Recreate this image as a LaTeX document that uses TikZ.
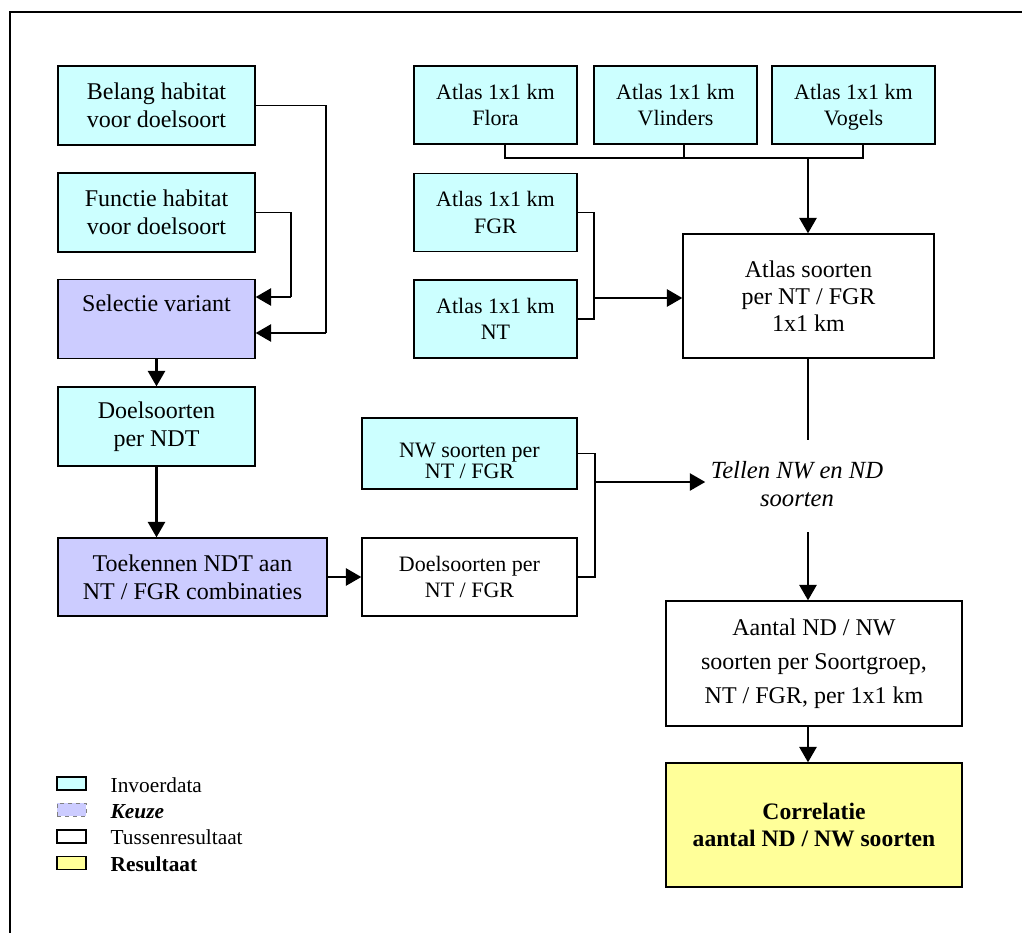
\documentclass[tikz,border=0pt]{standalone}
\usepackage{fontspec}
\setmainfont{Liberation Serif}
\usetikzlibrary{arrows}
\definecolor{invoerkl}{HTML}{CCFFFF}
\definecolor{keuzekl}{HTML}{CCCCFF}
\definecolor{resultkl}{HTML}{FFFF99}

\begin{document}
\begin{tikzpicture}[x=0.75pt,y=-0.75pt,
  box/.style={draw,line width=1.1pt,align=center,inner sep=0pt},
  invoer/.style={box,fill=invoerkl},
  keuze/.style={box,fill=keuzekl},
  tussen/.style={box,fill=white},
  resultaat/.style={box,fill=resultkl},
  groot/.style={font=\fontsize{18}{21}\selectfont},
  klein/.style={font=\fontsize{16.5}{20}\selectfont},
  links/.style={groot,minimum width=147.75pt,minimum height=59.25pt},
  atlas/.style={klein,minimum width=122.25pt,minimum height=58.5pt},
  legenda/.style={minimum width=21.75pt,minimum height=9.75pt,line width=0.9pt},
  legtekst/.style={anchor=base west,font=\fontsize{16}{19}\selectfont},
  lijn/.style={line width=0.9pt},
  pijl/.style={line width=2.2pt,-triangle 60}]
  \useasboundingbox (0,0) rectangle (1022,933);
  \draw[line width=1pt] (1022,12) -- (10,12) -- (10,933);

  \node[invoer,links] (belang) at (156.5,105.5) {Belang habitat\\voor doelsoort};
  \node[invoer,links] (functie) at (156.5,212.5) {Functie habitat\\voor doelsoort};
  \node[keuze,links] (selectie) at (156.5,319) {Selectie variant\\[-3pt]\strut};
  \node[invoer,links] (ndt) at (156.5,426.5) {Doelsoorten\\per NDT};
  \node[keuze,groot,minimum width=201.75pt,minimum height=58.5pt] (toek) at (192.5,577)
    {Toekennen NDT aan\\NT / FGR combinaties};

  \node[invoer,atlas] (flora) at (495.5,105) {Atlas 1x1 km\\Flora};
  \node[invoer,atlas] (vlind) at (675.5,105) {Atlas 1x1 km\\Vlinders};
  \node[invoer,atlas] (vogel) at (853.5,105) {Atlas 1x1 km\\\smash{Vogels}};
  \node[invoer,atlas] (fgr) at (495.5,212.5) {Atlas 1x1 km\\FGR};
  \node[invoer,atlas] (nt) at (495.5,319) {Atlas 1x1 km\\NT};
  \node[tussen,font=\fontsize{18}{20.5}\selectfont,minimum width=188.25pt,minimum height=93pt]
    (soort) at (808.5,296) {Atlas soorten\\per NT / FGR\\1x1 km};

  \node[invoer,klein,minimum width=161.25pt,minimum height=53.25pt] (nw) at (469.5,453.5)
    {\rule{0pt}{22pt}NW soorten per\\[-4pt]NT / FGR};
  \node[tussen,klein,minimum width=161.25pt,minimum height=58.5pt] (doelnt) at (469.5,577)
    {Doelsoorten per\\NT / FGR};
  \node[groot,align=center,inner sep=4pt,font=\fontsize{18.5}{21.5}\selectfont\itshape]
    (tellen) at (797,484) {Tellen NW en ND\\soorten};

  \node[tussen,font=\fontsize{18}{25.5}\selectfont,minimum width=222pt,minimum height=93.75pt]
    (aantal) at (814,663.5) {Aantal ND / NW\\soorten per Soortgroep,\\NT / FGR, per 1x1 km};
  \node[resultaat,font=\fontsize{17.7}{20.5}\selectfont\bfseries,minimum width=222pt,minimum height=93pt]
    (corr) at (814,825) {Correlatie\\aantal ND / NW soorten};

  \coordinate (jb) at (326,333);
  \coordinate (jf) at (291,297);
  \coordinate (hl) at (505,158);
  \coordinate (hm) at (684,158);
  \coordinate (hr) at (863,158);
  \coordinate (jatl) at (808,158);
  \coordinate (jnt) at (594,298);
  \coordinate (jnw) at (595,482);
  \coordinate (t1) at (808,440);
  \coordinate (t2) at (808,532);

  \draw[lijn] (belang.east) -| (jb);
  \draw[pijl] (jb) -- (jb -| selectie.east);
  \draw[lijn] (functie.east) -| (jf);
  \draw[pijl] (jf) -- (jf -| selectie.east);
  \draw[pijl] (selectie) -- (ndt);
  \draw[pijl] (ndt.south) -- (ndt.south |- toek.north);
  \draw[pijl] (toek) -- (doelnt);

  \draw[lijn] (hl |- flora.south) -- (hl) -- (hr) -- (hr |- vogel.south);
  \draw[lijn] (hm |- vlind.south) -- (hm);
  \draw[pijl] (jatl) -- (jatl |- soort.north);
  \draw[lijn] (fgr.east) -| (jnt) |- (nt.east);
  \draw[pijl] (jnt) -- (jnt -| soort.west);

  \draw[lijn] (nw.east) -| (jnw) |- (doelnt.east);
  \draw[pijl] (jnw) -- (jnw -| tellen.west);
  \draw[line width=2.2pt] (t1 |- soort.south) -- (t1);
  \draw[pijl] (t2) -- (t2 |- aantal.north);
  \draw[pijl] (t2 |- aantal.south) -- (t2 |- corr.north);

  \node[invoer,legenda] (l1) at (71.5,783.5) {};
  \node[box,legenda,fill=keuzekl,draw=gray,dashed,line width=0.5pt] (l2) at (71.5,809.5) {};
  \node[tussen,legenda] (l3) at (71.5,836.5) {};
  \node[resultaat,legenda] (l4) at (71.5,863) {};
  \node[legtekst] (lt1) at (106,792) {Invoerdata};
  \node[legtekst,font=\fontsize{16}{19}\selectfont\bfseries\itshape] (lt2) at (106,818) {Keuze};
  \node[legtekst] (lt3) at (106,844) {Tussenresultaat};
  \node[legtekst,font=\fontsize{16}{19}\selectfont\bfseries] (lt4) at (106,871) {Resultaat};
\end{tikzpicture}
\end{document}
